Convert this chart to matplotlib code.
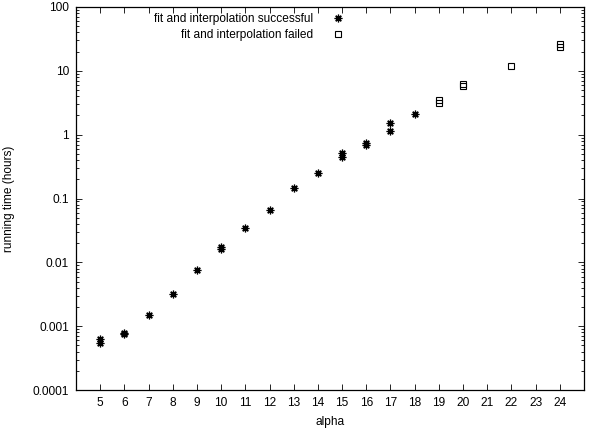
import numpy as np
import matplotlib
matplotlib.use("Agg")
import matplotlib.pyplot as plt
from matplotlib.ticker import LogLocator, FuncFormatter, NullFormatter

plt.rcParams['font.family'] = ['Liberation Sans', 'DejaVu Sans']
plt.rcParams['font.size'] = 8.6

# runs where fit and interpolation worked
success_alpha = [5, 5, 6, 6, 7, 8, 9, 10, 10, 11, 12, 13, 14, 15, 15, 16, 16, 17, 17, 18]
success_hours = [0.00055, 0.00062, 0.00076, 0.00079, 0.00152, 0.0032, 0.0075,
                 0.0161, 0.0172, 0.034, 0.066, 0.146, 0.253, 0.45, 0.52,
                 0.70, 0.73, 1.15, 1.50, 2.10]

# runs where it failed
failed_alpha = [19, 19, 20, 20, 22, 24, 24]
failed_hours = [3.15, 3.5, 5.7, 6.2, 12.0, 23.5, 26.5]

x_ticks = list(range(5, 25))
x_name = "alpha"
y_name = "running time (hours)"
line_name = ["fit and interpolation successful", "fit and interpolation failed"]

fig = plt.figure(figsize=(5.9, 4.32), dpi=100)
ax = fig.add_axes([0.1288, 0.0972, 0.861, 0.8866])

ax.plot(success_alpha, success_hours, linestyle='none', marker=(8, 2, 0),
        markersize=5.5, markeredgewidth=0.9, color='black', label=line_name[0])
ax.plot(failed_alpha, failed_hours, linestyle='none', marker='s',
        markersize=5, markeredgewidth=0.8, markerfacecolor='none',
        color='black', label=line_name[1])

ax.set_yscale('log')
ax.set_xlim(4, 25)
ax.set_ylim(0.0001, 100)
ax.set_xticks(x_ticks)
ax.yaxis.set_major_locator(LogLocator(base=10, numticks=10))
ax.yaxis.set_minor_locator(LogLocator(base=10, subs=np.arange(2, 10), numticks=20))
ax.yaxis.set_major_formatter(FuncFormatter(lambda v, p: '%g' % v))
ax.yaxis.set_minor_formatter(NullFormatter())

ax.tick_params(which='both', direction='in', top=True, right=True, width=0.6)
ax.tick_params(which='major', length=4.5, pad=5)
ax.tick_params(which='minor', length=2.5)
for s in ax.spines.values():
    s.set_linewidth(0.9)

ax.set_xlabel(x_name, labelpad=5)
ax.set_ylabel(y_name, labelpad=13)

ax.legend(loc='upper right', bbox_to_anchor=(0.528, 0.985), frameon=False,
          markerfirst=False, handlelength=1.0, handletextpad=1.6,
          borderpad=0, borderaxespad=0, labelspacing=0.38, fontsize=8.6)

fig.savefig('out.png', dpi=100)
